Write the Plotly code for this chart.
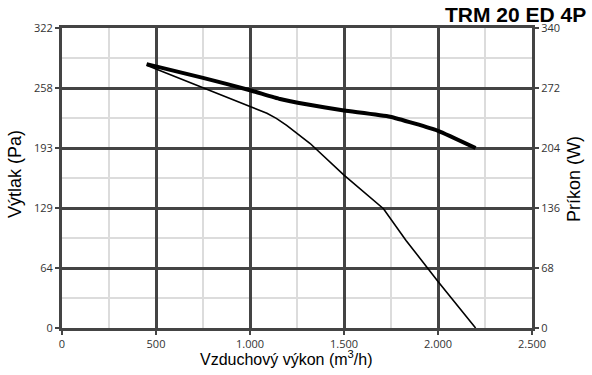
import plotly.graph_objects as go

# Data
flow_pressure = [450, 750, 1000, 1090, 1140, 1195, 1320, 1500, 1710, 1830, 2000, 2200]
pressure_pa = [282, 257.5, 237.5, 230.5, 225, 217.5, 198, 164, 128, 94, 50, 0]

flow_power = [450, 750, 1000, 1160, 1300, 1500, 1745, 2000, 2200]
power_w = [299, 283.5, 269.5, 259.5, 253.5, 246.5, 239.5, 223.5, 204]

x_ticks = [0, 500, 1000, 1500, 2000, 2500]
x_ticklabels = ["0", "500", "1.000", "1.500", "2.000", "2.500"]
x_minor = [250, 750, 1250, 1750, 2250]

y_ticks = [0, 64.4, 128.8, 193.2, 257.6, 322]
y_ticklabels = ["0", "64", "129", "193", "258", "322"]
y_minor = [32.2, 96.6, 161.0, 225.4, 289.8]

y2_ticks = [0, 68, 136, 204, 272, 340]
y2_ticklabels = ["0", "68", "136", "204", "272", "340"]

title_text = "TRM 20 ED 4P"
x_title = "Vzduchový výkon (m<sup>3</sup>/h)"
y_title = "Výtlak (Pa)"
y2_title = "Príkon (W)"

AX = "#444444"
MINOR = "#dcdcdc"
tickfont = dict(family="Open Sans", size=11, color="#333333")
titlefont = dict(family="Liberation Sans, Arial", size=16, color="#000000")
ytitlefont = dict(family="Liberation Sans, Arial", size=18, color="#000000")

L, R, T, B = 62, 60, 28, 47
W, H = 592, 375
PW, PH = W - L - R, H - T - B


def px_x(p):
    return (p - L) / PW


def px_y(p):
    return (H - B - p) / PH


fig = go.Figure()
fig.add_trace(go.Scatter(x=flow_pressure, y=pressure_pa, mode="lines",
                         line=dict(color="#000000", width=1.6),
                         yaxis="y", showlegend=False, hoverinfo="skip"))
fig.add_trace(go.Scatter(x=flow_power, y=power_w, mode="lines",
                         line=dict(color="#000000", width=4, shape="spline", smoothing=0.4),
                         yaxis="y2", showlegend=False, hoverinfo="skip"))

fig.update_layout(
    width=W, height=H,
    margin=dict(l=L, r=R, t=T, b=B, autoexpand=False),
    paper_bgcolor="white", plot_bgcolor="white",
    xaxis=dict(range=[0, 2500], tickvals=x_ticks, ticktext=x_ticklabels,
               showgrid=True, gridcolor=AX, gridwidth=2.5,
               minor=dict(tickvals=x_minor, showgrid=True, gridcolor=MINOR, gridwidth=2, ticks=""),
               showline=True, linecolor=AX, linewidth=3, mirror=True,
               ticks="outside", ticklen=4, tickwidth=2, tickcolor=AX,
               tickfont=tickfont, zeroline=False, automargin=False),
    yaxis=dict(range=[0, 322], tickvals=y_ticks, ticktext=y_ticklabels,
               showgrid=True, gridcolor=AX, gridwidth=2.5,
               minor=dict(tickvals=y_minor, showgrid=True, gridcolor=MINOR, gridwidth=2, ticks=""),
               showline=True, linecolor=AX, linewidth=3, mirror=True,
               ticks="outside", ticklen=4, tickwidth=2, tickcolor=AX,
               tickfont=tickfont, zeroline=False, automargin=False),
    yaxis2=dict(range=[0, 340], tickvals=y2_ticks, ticktext=y2_ticklabels,
                overlaying="y", side="right", showgrid=False, zeroline=False,
                showline=True, linecolor=AX, linewidth=3,
                ticks="outside", ticklen=4, tickwidth=2, tickcolor=AX,
                tickfont=tickfont, automargin=False),
    annotations=[
        dict(text="<b>" + title_text + "</b>", xref="paper", yref="paper",
             x=px_x(588), y=px_y(14), xanchor="right", yanchor="middle",
             showarrow=False,
             font=dict(family="Liberation Sans, Arial", size=21, color="#000000")),
        dict(text=x_title, xref="paper", yref="paper",
             x=px_x(286), y=px_y(358), xanchor="center", yanchor="middle",
             showarrow=False, font=titlefont),
        dict(text=y_title, xref="paper", yref="paper", textangle=-90,
             x=px_x(15), y=px_y(174), xanchor="center", yanchor="middle",
             showarrow=False, font=ytitlefont),
        dict(text=y2_title, xref="paper", yref="paper", textangle=-90,
             x=px_x(574), y=px_y(179), xanchor="center", yanchor="middle",
             showarrow=False, font=ytitlefont),
    ],
)

fig.write_html("out.html", config={"displayModeBar": False},
               post_script="document.body.style.margin='0';document.body.style.overflow='hidden';")
